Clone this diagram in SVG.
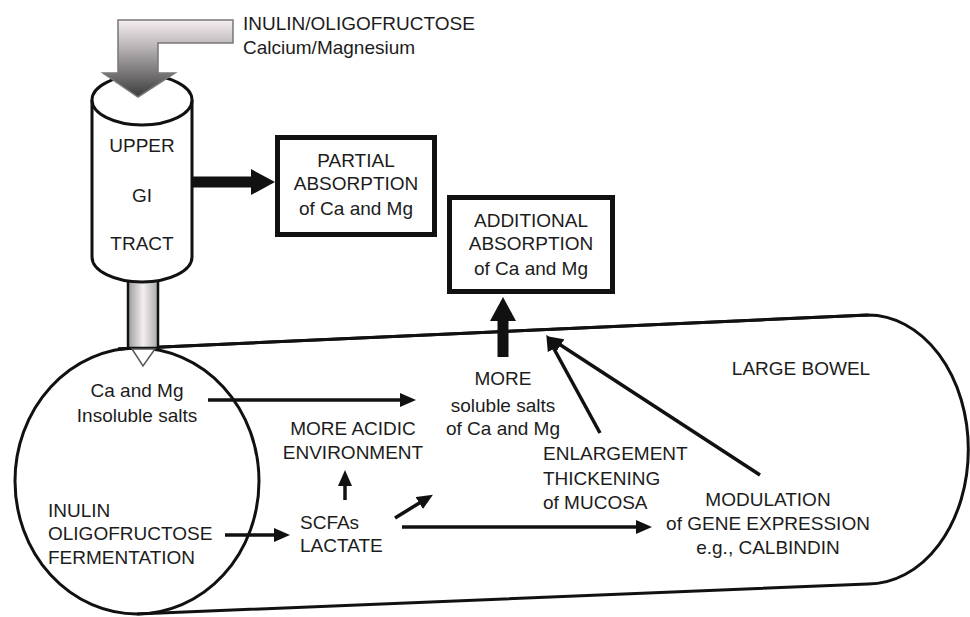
<svg xmlns="http://www.w3.org/2000/svg" width="970" height="617" viewBox="0 0 970 617">
<defs>
<linearGradient id="gIn" gradientUnits="userSpaceOnUse" x1="0" y1="20" x2="0" y2="97">
<stop offset="0" stop-color="#f6eef0"/>
<stop offset="0.35" stop-color="#b9b4b5"/>
<stop offset="1" stop-color="#3c3c3c"/>
</linearGradient>
<linearGradient id="gTube" x1="0" y1="0" x2="1" y2="0">
<stop offset="0" stop-color="#9a9a9a"/>
<stop offset="0.5" stop-color="#f4eef0"/>
<stop offset="1" stop-color="#a8a8a8"/>
</linearGradient>
<marker id="ah" markerUnits="userSpaceOnUse" markerWidth="16" markerHeight="14" refX="2" refY="7" orient="auto">
<path d="M0,0 L16,7 L0,14 Z" fill="#111"/>
</marker>
<marker id="ahBig" markerUnits="userSpaceOnUse" markerWidth="24" markerHeight="26" refX="1" refY="13" orient="auto">
<path d="M0,0 L24,13 L0,26 Z" fill="#111"/>
</marker>
</defs>
<style>
text{font-family:"Liberation Sans",Arial,sans-serif;font-size:19px;fill:#1c1c1c}
.c{text-anchor:middle}
.out{fill:#fff;stroke:#111;stroke-width:3}
.box{fill:#fff;stroke:#111;stroke-width:5}
.thin{fill:none;stroke:#111;stroke-width:3.5;marker-end:url(#ah)}
.thick{fill:none;stroke:#111;stroke-width:11;marker-end:url(#ahBig)}
</style>

<g id="large-bowel">
<path class="out" d="M118,349 L868,315 A100,134 0 0 1 868,584 L137,614"/>
<ellipse class="out" fill="none" cx="137" cy="481" rx="122" ry="133" style="fill:none"/>
<path d="M118,349 L868,315" fill="none" stroke="#111" stroke-width="3"/>
<text class="c" x="801" y="375">LARGE BOWEL</text>
</g>

<g id="upper-gi-tract">
<rect x="128" y="280" width="30" height="68" fill="url(#gTube)" stroke="#111" stroke-width="2.5"/>
<path d="M132,349 L155,349 L143,366 Z" fill="#fff" stroke="#555" stroke-width="1.5"/>
<path class="out" d="M92,100 L92,257 A50,25 0 0 0 192,257 L192,100"/>
<ellipse class="out" cx="142" cy="100" rx="50" ry="25"/>
<text class="c" x="142" y="152">UPPER</text>
<text class="c" x="142" y="202">GI</text>
<text class="c" x="142" y="250">TRACT</text>
</g>

<g id="input">
<path d="M233,20 L118,20 L118,73 L103,73 L138,97 L175,73 L158,73 L158,43 L233,43 Z" fill="url(#gIn)" stroke="#777" stroke-width="1.5"/>
<text x="243" y="30">INULIN/OLIGOFRUCTOSE</text>
<text x="243" y="54">Calcium/Magnesium</text>
</g>

<g id="partial-absorption">
<rect class="box" x="277.5" y="137.5" width="157" height="97"/>
<text class="c" x="356" y="167">PARTIAL</text>
<text class="c" x="356" y="190">ABSORPTION</text>
<text class="c" x="356" y="215">of Ca and Mg</text>
</g>

<g id="additional-absorption">
<rect class="box" x="449.5" y="197.5" width="163" height="94"/>
<text class="c" x="531" y="227">ADDITIONAL</text>
<text class="c" x="531" y="250">ABSORPTION</text>
<text class="c" x="531" y="275">of Ca and Mg</text>
</g>

<g id="insoluble-salts">
<text class="c" x="137" y="397">Ca and Mg</text>
<text class="c" x="137" y="422">Insoluble salts</text>
</g>

<g id="fermentation">
<text x="48" y="517">INULIN</text>
<text x="48" y="540">OLIGOFRUCTOSE</text>
<text x="48" y="564">FERMENTATION</text>
</g>

<g id="scfas">
<text x="300" y="529">SCFAs</text>
<text x="300" y="552">LACTATE</text>
</g>

<g id="acidic">
<text class="c" x="353" y="435">MORE ACIDIC</text>
<text class="c" x="353" y="459">ENVIRONMENT</text>
</g>

<g id="soluble-salts">
<text class="c" x="503" y="385">MORE</text>
<text class="c" x="503" y="412">soluble salts</text>
<text class="c" x="503" y="435">of Ca and Mg</text>
</g>

<g id="mucosa">
<text x="543" y="460">ENLARGEMENT</text>
<text x="543" y="485">THICKENING</text>
<text x="543" y="509">of MUCOSA</text>
</g>

<g id="gene-expression">
<text class="c" x="768" y="506">MODULATION</text>
<text class="c" x="768" y="530">of GENE EXPRESSION</text>
<text class="c" x="768" y="554">e.g., CALBINDIN</text>
</g>

<g id="connectors">
<path class="thick" d="M192,182 L252,182"/>
<path class="thick" d="M503,357 L503,320"/>
<path class="thin" d="M208,400 L402,400"/>
<path class="thin" d="M225,535 L276,535"/>
<path class="thin" d="M345,500 L345,484"/>
<path class="thin" d="M395,518 L421,502"/>
<path class="thin" d="M402,527 L638,527"/>
<path class="thin" d="M600,433 L553,347"/>
<path class="thin" d="M760,475 L559,344"/>
</g>
</svg>
